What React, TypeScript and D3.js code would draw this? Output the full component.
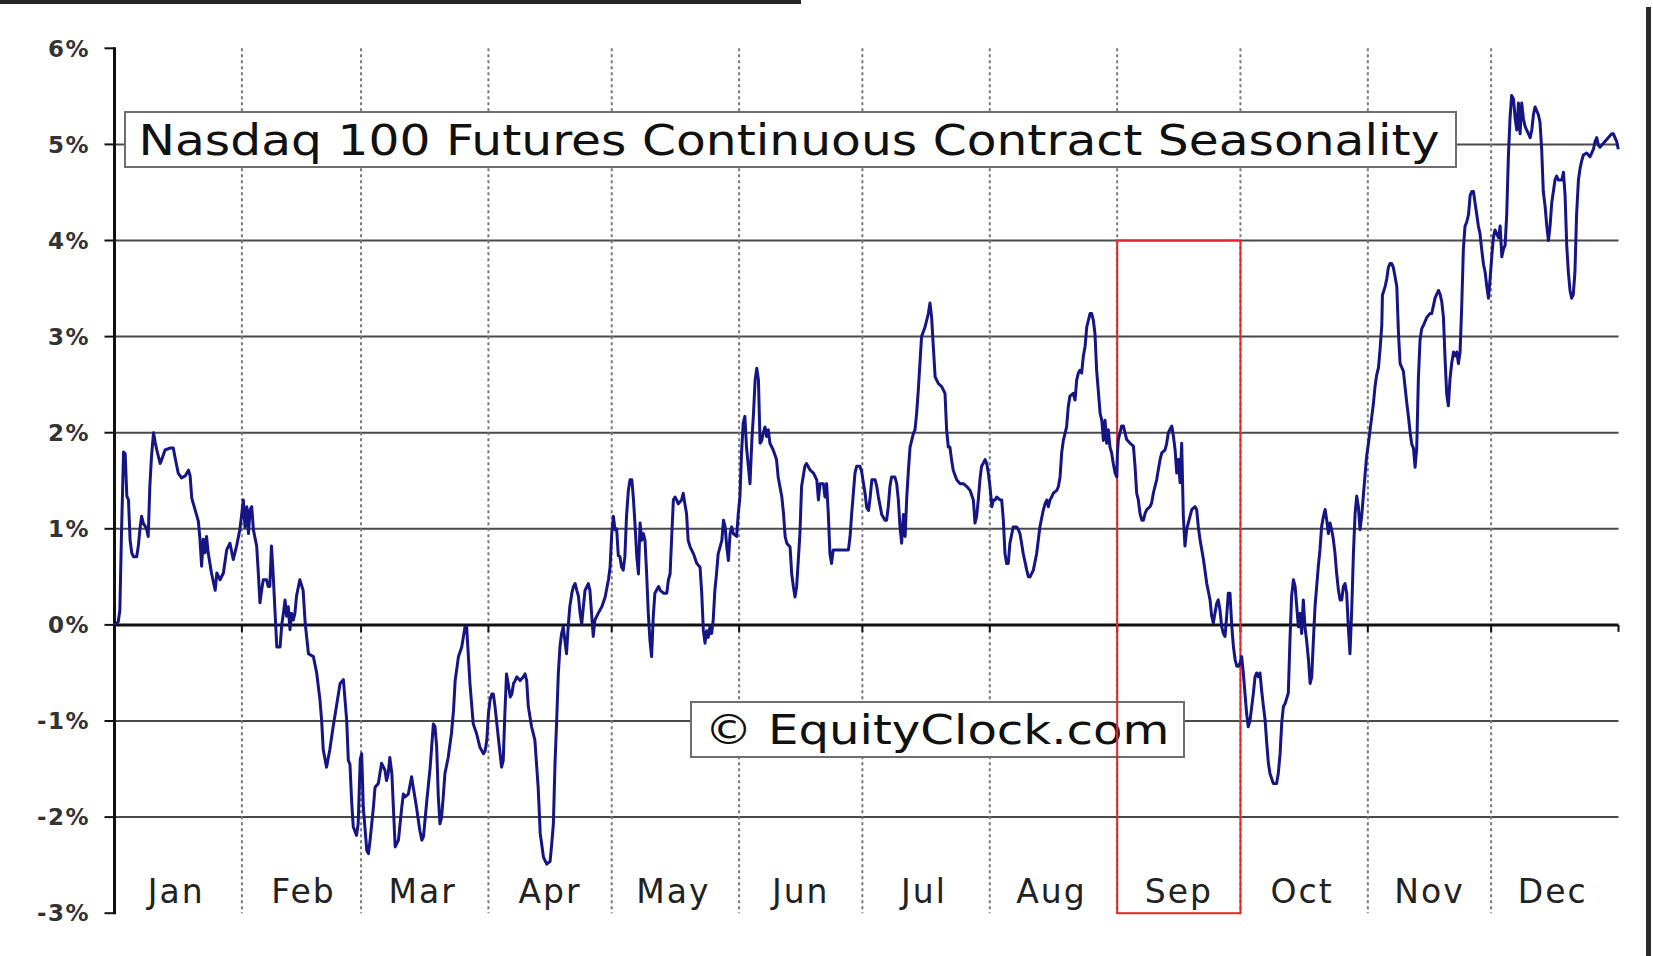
import React from 'react';
import * as d3 from 'd3';

// ---- Data (seasonal average % gain, read per month as [day of month, value]) ----
const monthLabels = ['Jan', 'Feb', 'Mar', 'Apr', 'May', 'Jun', 'Jul', 'Aug', 'Sep', 'Oct', 'Nov', 'Dec'];
const yTicks = [-3, -2, -1, 0, 1, 2, 3, 4, 5, 6];
const gridValues = [-2, -1, 1, 2, 3, 4, 5];
const SEASON_YEAR = 2012; // leap-year calendar for the seasonal axis
const titleText = 'Nasdaq 100 Futures Continuous Contract Seasonality';
const watermarkText = '\u00A9 EquityClock.com';
const highlightMonth = 8; // Sep
const highlightRange = [4, -3];

const jan: [number, number][] = [
  [0, 0.0], [0.9, 0.03], [1.3, 0.15], [1.7, 0.95], [2.2, 1.8], [2.6, 1.78], [3.0, 1.34], [3.4, 1.3], [3.8, 0.88],
  [4.2, 0.75], [4.6, 0.71], [5.4, 0.71], [5.8, 0.82], [6.2, 1.0], [6.6, 1.13], [7.0, 1.06], [7.8, 1.0], [8.2, 0.92],
  [8.6, 1.44], [9.0, 1.75], [9.5, 2.0], [9.9, 1.9], [10.3, 1.82], [11.1, 1.68], [11.5, 1.72], [12.3, 1.82],
  [13.5, 1.84], [14.3, 1.84], [14.7, 1.75], [15.5, 1.58], [16.3, 1.53], [17.2, 1.55], [18.0, 1.61], [18.4, 1.55],
  [18.8, 1.32], [19.6, 1.2], [20.4, 1.08], [20.8, 0.89], [21.2, 0.61], [21.6, 0.89], [22.0, 0.75], [22.4, 0.92],
  [22.8, 0.75], [23.6, 0.54], [24.5, 0.36], [24.9, 0.54], [25.7, 0.47], [26.5, 0.54], [27.3, 0.78], [28.1, 0.85],
  [28.9, 0.68], [29.7, 0.82], [30.5, 0.99], [30.9, 1.13],
];
const feb: [number, number][] = [
  [0.35, 1.3], [0.75, 1.02], [1.2, 1.23], [1.6, 0.95], [2.0, 1.2], [2.4, 1.23], [2.8, 0.99], [3.6, 0.82], [4.0, 0.54],
  [4.4, 0.23], [4.8, 0.36], [5.2, 0.47], [6.0, 0.47], [6.4, 0.4], [6.8, 0.4], [7.2, 0.82], [7.6, 0.54], [8.0, 0.19],
  [8.5, -0.23], [9.3, -0.23], [9.7, 0.0], [10.1, 0.12], [10.5, 0.26], [10.9, 0.09], [11.3, 0.19], [11.7, -0.05],
  [12.1, 0.12], [12.5, 0.05], [12.9, 0.12], [13.3, 0.3], [14.1, 0.47], [14.9, 0.36], [15.4, 0.02], [16.2, -0.3],
  [17.4, -0.33], [18.2, -0.5], [19.0, -0.78], [19.4, -0.99], [19.8, -1.3], [20.6, -1.48], [21.4, -1.3],
  [22.2, -1.06], [23.0, -0.85], [23.9, -0.61], [24.7, -0.57], [25.5, -0.99], [25.9, -1.41], [26.3, -1.45],
  [26.7, -1.83], [27.1, -2.1], [27.9, -2.19], [28.3, -2.07], [28.8, -1.4],
];
const mar: [number, number][] = [
  [0.15, -1.34], [0.55, -1.9], [1.4, -2.35], [1.8, -2.38], [2.2, -2.24], [3.0, -1.9], [3.4, -1.69], [4.2, -1.65],
  [5.0, -1.44], [5.8, -1.51], [6.2, -1.62], [6.6, -1.55], [7.0, -1.38], [7.5, -1.55], [7.9, -1.93], [8.3, -2.31],
  [9.1, -2.24], [9.9, -1.9], [10.3, -1.76], [10.7, -1.79], [11.5, -1.76], [12.3, -1.58], [12.7, -1.69],
  [13.5, -1.9], [14.3, -2.14], [14.8, -2.24], [15.2, -2.2], [16.0, -1.83], [16.8, -1.49], [17.6, -1.03],
  [18.0, -1.06], [18.4, -1.27], [18.8, -1.79], [19.2, -2.07], [19.6, -2.0], [20.0, -1.79], [20.4, -1.55],
  [21.2, -1.38], [22.0, -1.13], [22.5, -0.89], [22.9, -0.58], [23.7, -0.33], [24.5, -0.23], [25.3, -0.02],
  [25.7, -0.02], [26.5, -0.61], [27.3, -1.03], [28.1, -1.13], [28.9, -1.27], [29.8, -1.34], [30.2, -1.31],
  [30.6, -1.2],
];
const apr: [number, number][] = [
  [0, -0.92], [0.4, -0.78], [0.8, -0.72], [1.2, -0.72], [1.6, -0.85], [2.4, -1.17], [3.2, -1.48], [3.6, -1.41],
  [4.0, -0.92], [4.4, -0.51], [4.8, -0.61], [5.3, -0.75], [5.7, -0.72], [6.1, -0.61], [6.5, -0.58], [6.9, -0.54],
  [7.7, -0.58], [8.5, -0.54], [8.9, -0.51], [9.3, -0.58], [9.7, -0.85], [10.5, -1.06], [11.3, -1.2],
  [12.1, -1.69], [12.6, -2.17], [13.4, -2.42], [14.2, -2.49], [15.0, -2.46], [15.4, -2.28], [15.8, -2.07],
  [16.2, -1.44], [16.6, -1.0], [17.0, -0.51], [17.4, -0.23], [17.8, -0.09], [18.2, -0.02], [18.6, -0.16],
  [19.0, -0.3], [19.4, -0.02], [19.8, 0.19], [20.3, 0.33], [20.7, 0.4], [21.1, 0.43], [21.5, 0.36], [21.9, 0.3],
  [22.3, 0.12], [22.7, 0.01], [23.1, 0.19], [23.5, 0.36], [24.3, 0.43], [24.7, 0.36], [25.1, 0.12],
  [25.5, -0.12], [25.9, 0.05], [26.7, 0.12], [27.6, 0.19], [28.4, 0.29], [29.2, 0.47], [29.6, 0.6],
];
const may: [number, number][] = [
  [0, 0.95], [0.4, 1.13], [0.8, 0.99], [1.2, 1.0], [1.6, 0.72], [2.0, 0.71], [2.4, 0.6], [2.8, 0.57], [3.2, 0.71],
  [3.6, 1.13], [4.05, 1.4], [4.45, 1.51], [4.9, 1.51], [5.3, 1.3], [5.7, 1.02], [6.1, 0.71], [6.5, 0.53],
  [6.9, 1.06], [7.3, 0.88], [7.7, 0.95], [8.1, 0.88], [8.5, 0.53], [8.9, 0.12], [9.3, -0.16], [9.7, -0.33],
  [10.1, 0.08], [10.5, 0.33], [11.4, 0.4], [11.8, 0.36], [12.6, 0.33], [13.4, 0.33], [13.8, 0.47], [14.2, 0.53],
  [14.6, 0.92], [15.0, 1.3], [15.4, 1.33], [15.8, 1.3], [16.2, 1.26], [17.0, 1.3], [17.4, 1.37], [17.8, 1.26],
  [18.2, 1.16], [18.6, 0.88], [19.1, 0.81], [19.9, 0.74], [20.7, 0.64], [21.5, 0.6], [21.9, 0.33], [22.3, -0.06],
  [22.7, -0.19], [23.1, -0.06], [23.5, -0.13], [23.9, -0.02], [24.3, -0.09], [24.7, 0.05], [25.1, 0.36],
  [25.5, 0.53], [25.9, 0.74], [26.8, 0.88], [27.2, 1.09], [27.6, 1.02], [28.0, 0.81], [28.4, 0.67], [28.8, 0.95],
  [29.2, 1.02], [29.6, 0.95], [30.4, 0.92], [30.8, 1.16],
];
const jun: [number, number][] = [
  [0.2, 1.33], [0.6, 1.8], [1.0, 2.1], [1.4, 2.17], [1.8, 1.85], [2.25, 1.65], [2.65, 1.47], [3.1, 1.92],
  [3.5, 2.2], [3.9, 2.55], [4.3, 2.67], [4.7, 2.55], [5.1, 1.89], [5.5, 1.92], [5.9, 2.0], [6.3, 2.06],
  [6.7, 1.96], [7.1, 2.03], [7.5, 1.89], [8.3, 1.82], [9.1, 1.72], [9.5, 1.54], [10.4, 1.33], [10.8, 1.16],
  [11.2, 0.92], [11.6, 0.85], [12.4, 0.81], [12.8, 0.53], [13.2, 0.4], [13.6, 0.29], [14.0, 0.4], [14.4, 0.67],
  [14.8, 0.95], [15.2, 1.44], [16.0, 1.65], [16.4, 1.68], [17.3, 1.61], [18.1, 1.58], [18.9, 1.51], [19.3, 1.3],
  [19.7, 1.47], [20.5, 1.47], [20.9, 1.33], [21.3, 1.47], [21.7, 1.16], [22.1, 0.74], [22.5, 0.64], [22.9, 0.78],
  [23.8, 0.78], [24.6, 0.78], [25.4, 0.78], [26.6, 0.78], [27.0, 0.92], [27.4, 1.16], [27.8, 1.37], [28.2, 1.58],
  [28.6, 1.65], [29.4, 1.65], [29.8, 1.6],
];
const jul: [number, number][] = [
  [0.2, 1.49], [0.65, 1.37], [1.05, 1.22], [1.5, 1.19], [1.9, 1.33], [2.3, 1.51], [3.1, 1.51], [3.5, 1.44],
  [3.9, 1.33], [4.7, 1.15], [5.5, 1.09], [5.9, 1.09], [6.3, 1.23], [6.7, 1.44], [7.1, 1.54], [7.9, 1.54],
  [8.35, 1.47], [8.75, 1.3], [9.15, 1.02], [9.55, 0.85], [10.0, 1.15], [10.4, 0.92], [10.8, 1.33], [11.2, 1.61],
  [11.6, 1.85], [12.0, 1.92], [12.4, 1.99], [12.8, 2.03], [13.2, 2.2], [13.6, 2.44], [14.0, 2.72], [14.4, 3.0],
  [15.25, 3.1], [15.65, 3.17], [16.05, 3.24], [16.45, 3.35], [16.85, 3.2], [17.25, 2.9], [17.7, 2.58],
  [18.5, 2.51], [19.3, 2.48], [20.1, 2.41], [20.5, 2.03], [20.9, 1.85], [21.3, 1.85], [21.7, 1.72], [22.1, 1.61],
  [22.95, 1.51], [23.75, 1.47], [24.6, 1.47], [25.4, 1.44], [26.2, 1.4], [27.0, 1.3], [27.4, 1.06], [27.8, 1.13],
  [28.2, 1.3], [28.6, 1.51], [29.0, 1.65], [29.4, 1.68], [29.85, 1.72], [30.25, 1.68], [30.65, 1.58],
];
const aug: [number, number][] = [
  [0.05, 1.44], [0.5, 1.23], [0.9, 1.3], [1.3, 1.3], [1.7, 1.33], [2.5, 1.3], [2.9, 1.3], [3.3, 1.09], [3.7, 0.74],
  [4.1, 0.64], [4.5, 0.64], [4.9, 0.85], [5.7, 1.02], [6.55, 1.02], [6.95, 0.99], [7.35, 0.95], [8.15, 0.74],
  [9.0, 0.57], [9.4, 0.5], [9.8, 0.5], [10.6, 0.57], [11.4, 0.74], [12.2, 1.02], [13.0, 1.19], [13.45, 1.26],
  [13.85, 1.3], [14.25, 1.23], [14.65, 1.3], [15.05, 1.33], [15.45, 1.37], [16.3, 1.4], [16.7, 1.44], [17.1, 1.54],
  [17.5, 1.79], [17.9, 1.92], [18.7, 2.06], [19.1, 2.27], [19.5, 2.38], [20.3, 2.41], [20.75, 2.34],
  [21.15, 2.55], [21.55, 2.62], [21.95, 2.65], [22.35, 2.62], [22.75, 2.79], [23.2, 2.9], [23.6, 3.1],
  [24.4, 3.24], [24.8, 3.24], [25.2, 3.17], [25.6, 3.03], [26.0, 2.65], [26.4, 2.44], [26.85, 2.2],
  [27.25, 2.13], [27.65, 1.92], [28.05, 2.13], [28.45, 1.89], [28.85, 2.03], [29.25, 1.85], [29.65, 1.79],
  [30.05, 1.68], [30.5, 1.58], [30.9, 1.54],
];
const sep: [number, number][] = [
  [0.06, 1.79], [0.3, 1.93], [1.1, 2.07], [1.5, 2.07], [1.9, 2.0], [2.3, 1.93], [3.15, 1.89], [3.95, 1.86],
  [4.35, 1.65], [4.75, 1.37], [5.15, 1.3], [5.55, 1.16], [6.0, 1.09], [6.4, 1.09], [6.8, 1.16], [7.2, 1.2],
  [8.0, 1.23], [8.4, 1.27], [8.8, 1.37], [9.6, 1.51], [10.45, 1.72], [10.85, 1.79], [11.65, 1.82], [12.05, 1.89],
  [12.45, 2.0], [13.3, 2.07], [13.7, 1.96], [14.1, 1.82], [14.5, 1.58], [14.9, 1.72], [15.3, 1.48], [15.7, 1.89],
  [16.1, 1.13], [16.5, 0.82], [16.9, 0.99], [17.3, 1.06], [18.15, 1.2], [18.95, 1.23], [19.35, 1.2],
  [19.75, 1.02], [20.15, 0.89], [21.0, 0.68], [21.8, 0.43], [22.6, 0.26], [23.0, 0.09], [23.4, 0.02],
  [23.8, 0.12], [24.2, 0.22], [24.6, 0.26], [25.0, 0.16], [25.45, -0.02], [25.85, -0.09], [26.25, -0.12],
  [26.65, 0.09], [27.05, 0.33], [27.45, 0.33], [27.9, -0.02], [28.3, -0.23], [28.7, -0.36], [29.1, -0.43],
  [29.5, -0.43], [29.9, -0.4],
];
const oct: [number, number][] = [
  [0.3, -0.33], [0.7, -0.5], [1.1, -0.71], [1.5, -0.92], [1.9, -1.06], [2.35, -0.99], [2.75, -0.85],
  [3.15, -0.71], [3.55, -0.54], [3.95, -0.5], [4.35, -0.54], [4.75, -0.5], [5.15, -0.68], [5.6, -0.85],
  [6.0, -0.99], [6.4, -1.23], [6.8, -1.44], [7.2, -1.55], [8.0, -1.65], [8.8, -1.65], [9.2, -1.55],
  [9.65, -1.34], [10.05, -1.02], [10.45, -0.85], [10.85, -0.82], [11.65, -0.71], [12.05, -0.16], [12.45, 0.3],
  [12.9, 0.47], [13.3, 0.4], [13.7, 0.19], [14.1, -0.02], [14.5, 0.12], [14.9, -0.09], [15.3, 0.26],
  [15.7, -0.02], [16.1, -0.16], [16.55, -0.36], [16.95, -0.61], [17.35, -0.54], [17.75, -0.16], [18.15, 0.19],
  [18.55, 0.4], [18.95, 0.61], [19.35, 0.78], [19.75, 1.02], [20.2, 1.13], [20.6, 1.2], [21.0, 1.09],
  [21.4, 0.95], [21.8, 1.06], [22.2, 0.99], [22.6, 0.89], [23.0, 0.75], [23.4, 0.54], [23.85, 0.36],
  [24.25, 0.26], [24.65, 0.26], [25.05, 0.4], [25.45, 0.43], [25.85, 0.33], [26.25, -0.02], [26.65, -0.3],
  [27.05, 0.12], [27.5, 0.75], [27.9, 1.16], [28.3, 1.34], [28.7, 1.23], [29.1, 0.99], [29.5, 1.13],
  [29.9, 1.34], [30.3, 1.55], [30.7, 1.75],
];
const nov: [number, number][] = [
  [0.15, 1.89], [0.55, 2.03], [1.35, 2.3], [1.75, 2.48], [2.15, 2.6], [2.6, 2.68], [3.0, 2.88], [3.4, 3.12],
  [3.55, 3.43], [4.2, 3.52], [4.6, 3.6], [5.0, 3.72], [5.4, 3.76], [5.8, 3.76], [6.2, 3.72], [6.6, 3.63],
  [7.05, 3.52], [7.45, 3.04], [7.85, 2.72], [8.25, 2.68], [8.65, 2.64], [9.05, 2.48], [9.45, 2.32], [9.9, 2.16],
  [10.3, 2.0], [10.7, 1.88], [11.1, 1.84], [11.5, 1.64], [11.9, 1.84], [12.3, 2.56], [12.7, 2.96], [13.1, 3.08],
  [13.55, 3.12], [13.95, 3.16], [14.35, 3.2], [15.15, 3.24], [15.55, 3.24], [15.95, 3.32], [16.35, 3.4],
  [16.75, 3.44], [17.2, 3.48], [17.6, 3.44], [18.0, 3.36], [18.4, 3.2], [18.8, 2.76], [19.2, 2.4], [19.6, 2.28],
  [20.0, 2.56], [20.4, 2.72], [20.85, 2.84], [21.25, 2.8], [21.65, 2.84], [22.05, 2.72], [22.45, 2.84],
  [22.85, 3.32], [23.25, 3.91], [23.65, 4.15], [24.05, 4.19], [24.5, 4.27], [24.9, 4.47], [25.3, 4.51],
  [25.7, 4.51], [26.1, 4.39], [26.5, 4.27], [26.9, 4.15], [27.3, 4.07], [27.7, 3.91], [28.15, 3.75],
  [28.55, 3.67], [28.95, 3.52], [29.35, 3.4], [29.75, 3.6],
];
const dec: [number, number][] = [
  [0.15, 3.83], [0.55, 4.03], [0.95, 4.11], [1.35, 4.07], [1.8, 4.03], [2.2, 4.15], [2.6, 3.83], [3.0, 3.91],
  [3.4, 3.95], [3.8, 4.27], [4.2, 4.87], [4.6, 5.27], [5.0, 5.51], [5.45, 5.47], [5.85, 5.27], [6.25, 5.15],
  [6.65, 5.43], [7.05, 5.11], [7.45, 5.43], [7.85, 5.27], [8.25, 5.19], [8.65, 5.15], [9.1, 5.11], [9.5, 5.07],
  [9.9, 5.15], [10.3, 5.31], [10.7, 5.39], [11.1, 5.35], [11.5, 5.31], [11.9, 5.23], [12.3, 4.95], [12.7, 4.51],
  [13.15, 4.35], [13.55, 4.15], [13.95, 4.0], [14.35, 4.15], [14.75, 4.39], [15.15, 4.51], [15.55, 4.63],
  [15.95, 4.67], [16.35, 4.63], [17.2, 4.63], [17.6, 4.71], [18.0, 4.47], [18.4, 3.95], [18.8, 3.67],
  [19.2, 3.48], [19.6, 3.4], [20.0, 3.44], [20.4, 3.67], [20.8, 4.27], [21.25, 4.63], [21.65, 4.75],
  [22.05, 4.83], [22.45, 4.89], [23.25, 4.91], [24.05, 4.87], [24.9, 4.95], [25.3, 5.03], [25.7, 5.07],
  [26.1, 4.99], [26.5, 4.97], [26.9, 4.99], [27.7, 5.03], [28.5, 5.07], [29.35, 5.11], [29.75, 5.11],
  [30.15, 5.07], [30.55, 5.03], [30.95, 4.95],
];
const monthlySeries = [jan, feb, mar, apr, may, jun, jul, aug, sep, oct, nov, dec];

const DAY_MS = 864e5;

export default function App() {
  const W = 1653;
  const H = 956;
  const start = new Date(Date.UTC(SEASON_YEAR, 0, 1));
  const end = new Date(Date.UTC(SEASON_YEAR + 1, 0, 1));
  const x = d3.scaleUtc().domain([start, end]).range([114.5, 1618.5]);
  const y = d3.scaleLinear().domain([-3, 6]).range([913.2, 48.3]);

  const points = monthlySeries.flatMap((arr, m) =>
    arr.map(([d, v]) => ({ t: new Date(Date.UTC(SEASON_YEAR, m, 1) + d * DAY_MS), v }))
  );
  const line = d3
    .line<{ t: Date; v: number }>()
    .x((p) => x(p.t))
    .y((p) => y(p.v));

  const monthStarts = d3.utcMonth.range(start, end);
  const innerBounds = monthStarts.slice(1);
  const x0 = x.range()[0];
  const x1 = x.range()[1];
  const yTop = y(6);
  const yBot = y(-3);
  const yZero = y(0);

  const hlX0 = x(new Date(Date.UTC(SEASON_YEAR, highlightMonth, 1)));
  const hlX1 = x(new Date(Date.UTC(SEASON_YEAR, highlightMonth + 1, 1)));

  return (
    <svg
      width={W}
      height={H}
      viewBox={`0 0 ${W} ${H}`}
      style={{ position: 'fixed', left: 0, top: 0, background: '#ffffff' }}
    >
      <rect x={0} y={0} width={W} height={H} fill="#ffffff" />
      {/* frame remnants */}
      <rect x={0} y={0} width={801} height={4} fill="#262626" />
      <rect x={1646} y={7} width={5} height={H - 7} fill="#2b2b2b" />

      {/* horizontal gridlines */}
      {gridValues.map((v) => (
        <line key={'g' + v} x1={x0} x2={x1} y1={y(v)} y2={y(v)} stroke="#4a4a4a" strokeWidth={2} />
      ))}
      {/* vertical dotted month separators */}
      {innerBounds.map((d, i) => (
        <line
          key={'v' + i}
          x1={x(d)}
          x2={x(d)}
          y1={yTop}
          y2={yBot}
          stroke="#7a7a7a"
          strokeWidth={2}
          strokeDasharray="3,3"
        />
      ))}
      {/* zero line */}
      <line x1={x0} x2={x1} y1={yZero} y2={yZero} stroke="#111" strokeWidth={3} />
      {[...innerBounds.map((d) => x(d)), x1].map((px, i) => (
        <line key={'xt' + i} x1={px} x2={px} y1={yZero} y2={yZero + 7} stroke="#111" strokeWidth={2} />
      ))}
      {/* y axis */}
      <line x1={x0} x2={x0} y1={yTop - 1} y2={yBot + 1} stroke="#111" strokeWidth={3} />
      {yTicks.map((v) => (
        <g key={'yt' + v}>
          <line x1={x0 - 10} x2={x0} y1={y(v)} y2={y(v)} stroke="#111" strokeWidth={2} />
          <text
            x={90}
            y={y(v)}
            dy="0.36em"
            textAnchor="end"
            fontFamily="'DejaVu Sans', Verdana, sans-serif"
            fontWeight="bold"
            fontSize={23}
            letterSpacing={1.5}
            fill="#333"
          >
            {v}%
          </text>
        </g>
      ))}
      {/* month labels */}
      {monthStarts.map((d, i) => (
        <text
          key={'m' + i}
          x={x(d3.utcDay.offset(d, 15))}
          y={903}
          textAnchor="middle"
          fontFamily="'DejaVu Sans', Verdana, sans-serif"
          fontSize={33}
          letterSpacing={2}
          fill="#222"
        >
          {monthLabels[i]}
        </text>
      ))}

      {/* title box */}
      <rect x={125} y={112} width={1331} height={55} fill="#fff" stroke="#6e6e6e" strokeWidth={2} />
      <text
        x={138.5}
        y={155}
        fontFamily="'DejaVu Sans', Verdana, sans-serif"
        fontSize={43}
        textLength={1301}
        lengthAdjust="spacingAndGlyphs"
        fill="#111"
      >
        {titleText}
      </text>

      {/* watermark box */}
      <rect x={691} y={702} width={493} height={55} fill="#fff" stroke="#6e6e6e" strokeWidth={2} />
      <text
        x={704.5}
        y={743.5}
        fontFamily="'DejaVu Sans', Verdana, sans-serif"
        fontSize={41}
        textLength={465}
        lengthAdjust="spacingAndGlyphs"
        fill="#111"
      >
        {watermarkText}
      </text>

      {/* highlighted month */}
      <rect
        x={hlX0}
        y={y(highlightRange[0])}
        width={hlX1 - hlX0}
        height={y(highlightRange[1]) - y(highlightRange[0])}
        fill="none"
        stroke="#e8232a"
        strokeWidth={2}
      />

      {/* seasonal line */}
      <path d={line(points) || ''} fill="none" stroke="#151585" strokeWidth={3} strokeLinejoin="round" />
    </svg>
  );
}
